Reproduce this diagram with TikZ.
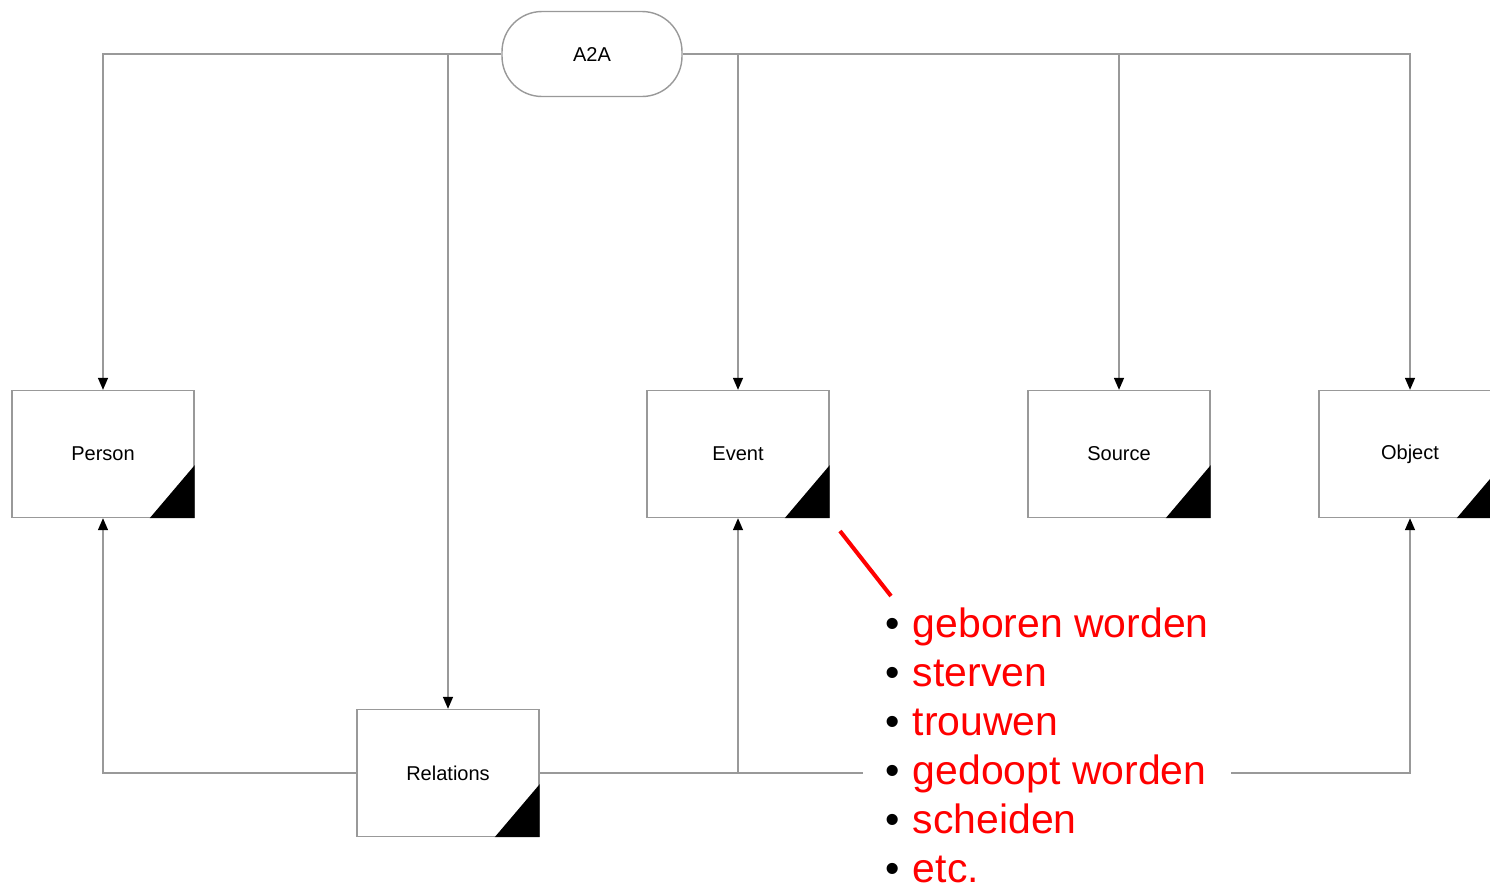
\documentclass[tikz,border=0pt]{standalone}
\usepackage{fontspec}
\setmainfont{Liberation Sans}
\usetikzlibrary{arrows.meta}

\begin{document}
\begin{tikzpicture}[x=0.02cm,y=-0.02cm,
  line/.style={draw=gray!80, line width=0.8pt},
  feed/.style={line, -{Triangle[length=0.24cm,width=0.2cm,color=black]}},
  entity/.style={draw=gray!80, line width=0.8pt, fill=white, minimum width=3.64cm, minimum height=2.54cm, inner sep=0pt, font=\fontsize{11.4}{13}\selectfont},
  root/.style={entity, rounded corners=0.8cm, minimum width=3.6cm, minimum height=1.7cm},
  evlist/.style={fill=white, inner xsep=0.44cm, inner ysep=0pt, text=red, anchor=base west, font=\fontsize{23.3}{27.9}\selectfont}]
\useasboundingbox (0,0) rectangle (1490,887);
\clip (0,0) rectangle (1490,887);
% model parts
\node[root] (a2a) at (592,54) {A2A};
\node[entity] (person) at (103,454) {Person};
\node[entity] (event) at (738,454) {Event};
\node[entity] (source) at (1119,454) {Source};
\node[entity] (object) at (1410,454) {Object};
\node[entity] (rel) at (448,773) {Relations};
\foreach \n in {person,event,source,object,rel}
  \fill (\n.south east) -- ++(-45,0) -- ++(45,-53) -- cycle;
% from the root
\draw[feed] (a2a.west) -| (person.north);
\draw[feed] (a2a.west) -| (rel.north);
\draw[feed] (a2a.east) -| (event.north);
\draw[feed] (a2a.east) -| (source.north);
\draw[feed] (a2a.east) -| (object.north);
% relations
\draw[feed] (rel.west) -| (person.south);
\draw[feed] (rel.east) -| (event.south);
\draw[feed] (rel.east) -| (object.south);
% kinds of events
\node[evlist] (events) at (863,637) {\begin{tabular}[t]{@{}l@{\hspace{7.5pt}}l@{}}
  \textcolor{black}{•} & geboren worden\\
  \textcolor{black}{•} & sterven\\
  \textcolor{black}{•} & trouwen\\
  \textcolor{black}{•} & gedoopt worden\\
  \textcolor{black}{•} & scheiden\\
  \textcolor{black}{•} & etc.
\end{tabular}};
\coordinate (calltip) at (840,531);
\coordinate (calltail) at (891,596);
\draw[red, line width=2.3pt] (calltip) -- (calltail);
\end{tikzpicture}
\end{document}
